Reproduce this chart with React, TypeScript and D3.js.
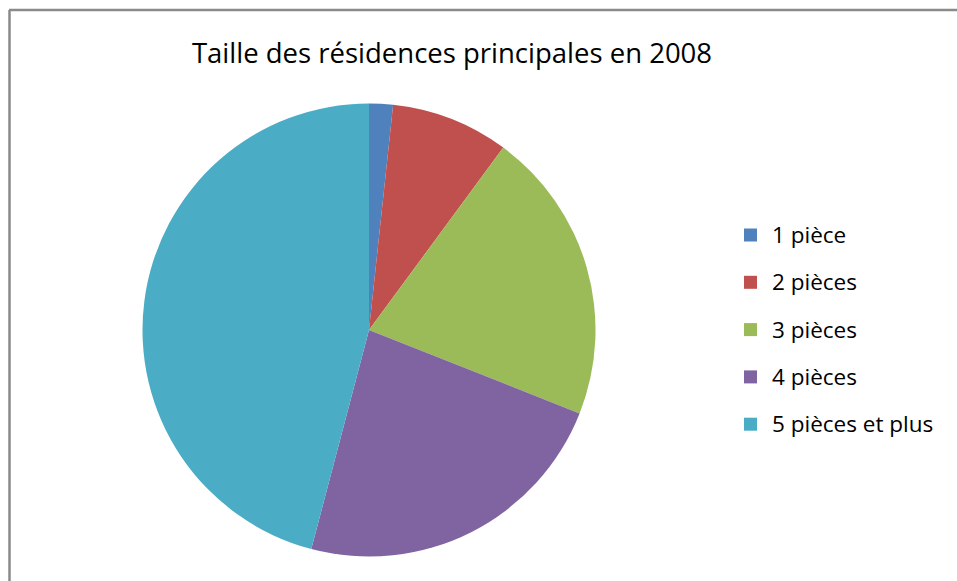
import React from "react";
import * as d3 from "d3";

const categories = ["1 pièce", "2 pièces", "3 pièces", "4 pièces", "5 pièces et plus"];
const values = [1.7, 8.4, 20.9, 23.1, 45.9];
const colors = ["#4F81BD", "#C0504D", "#9BBB59", "#8064A2", "#4BACC6"];
const title = "Taille des résidences principales en 2008";

export default function App() {
  const W = 957, H = 581;
  const cx = 369, cy = 330, r = 226.5;
  const pie = d3.pie<number>().sort(null).value((d) => d)(values);
  const arc = d3.arc<d3.PieArcDatum<number>>().innerRadius(0).outerRadius(r);
  const font = "Open Sans, Noto Sans, sans-serif";
  return (
    <svg width={W} height={H} style={{ position: "absolute", left: 0, top: 0, display: "block", background: "#fff" }}>
      <rect x={0} y={0} width={W} height={H} fill="#fff" />
      <line x1={9} y1={10} x2={W} y2={10} stroke="#8a8a8a" strokeWidth={2.5} />
      <line x1={9.5} y1={10} x2={9.5} y2={H} stroke="#8a8a8a" strokeWidth={2.5} />
      <text x={452} y={63} textAnchor="middle" fontFamily={font} fontSize={27.5} fill="#000">{title}</text>
      <g transform={`translate(${cx},${cy})`}>
        {pie.map((p, i) => (
          <path key={i} d={arc(p) || ""} fill={colors[i]} />
        ))}
      </g>
      {categories.map((c, i) => (
        <g key={c} transform={`translate(744,${235 + i * 47.3})`}>
          <rect x={0} y={-6.5} width={13} height={13} fill={colors[i]} />
          <text x={28} y={8} fontFamily={font} fontSize={22.5} fill="#000">{c}</text>
        </g>
      ))}
    </svg>
  );
}
